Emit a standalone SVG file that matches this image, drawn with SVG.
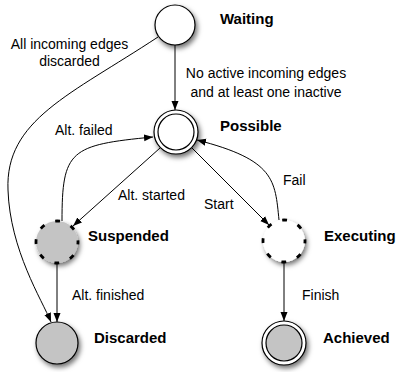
<svg xmlns="http://www.w3.org/2000/svg" width="400" height="372" viewBox="0 0 400 372">
  <style>
    .lbl { font-family: "Liberation Sans", Arial, sans-serif; font-size: 14px; fill: #000; }
    .name { font-family: "Liberation Sans", Arial, sans-serif; font-size: 15px; font-weight: bold; fill: #000; }
    .edge { fill: none; stroke: #000; stroke-width: 1; }
    .ring { stroke: #000; stroke-width: 1.2; }
    .white { fill: #fff; }
    .grey { fill: #c4c4c4; }
    .dashed { stroke: #000; stroke-width: 2.8; stroke-dasharray: 5 11.49; stroke-dashoffset: 2.5; }
  </style>
  <defs>
    <filter id="shadow" x="-40%" y="-40%" width="190%" height="190%">
      <feDropShadow dx="2" dy="3" stdDeviation="2.5" flood-color="#000" flood-opacity="0.55"/>
    </filter>
    <marker id="arrow" markerWidth="10" markerHeight="8" refX="9" refY="4" orient="auto" markerUnits="userSpaceOnUse">
      <path d="M0,0.5 L9,4 L0,7.5 Z" fill="#000"/>
    </marker>
  </defs>

  <!-- transitions -->
  <g id="connectors">
    <line class="edge" x1="175" y1="45" x2="175" y2="110" marker-end="url(#arrow)"/>
    <path class="edge" d="M158,37 C70,95 5,120 8,190 C10,250 42,300 51,322" marker-end="url(#arrow)"/>
    <path class="edge" d="M62,221 C62,150 70,145 153,137" marker-end="url(#arrow)"/>
    <line class="edge" x1="160" y1="148" x2="73" y2="226" marker-end="url(#arrow)"/>
    <line class="edge" x1="192" y1="148" x2="269" y2="225" marker-end="url(#arrow)"/>
    <path class="edge" d="M279,220 C275,180 275,160 197,140" marker-end="url(#arrow)"/>
    <line class="edge" x1="57" y1="263" x2="57" y2="322" marker-end="url(#arrow)"/>
    <line class="edge" x1="284" y1="262" x2="284" y2="321" marker-end="url(#arrow)"/>
    <text class="lbl" x="69.5" y="49" text-anchor="middle">All incoming edges</text>
    <text class="lbl" x="69.5" y="66" text-anchor="middle">discarded</text>
    <text class="lbl" x="266" y="78" text-anchor="middle">No active incoming edges</text>
    <text class="lbl" x="266" y="97" text-anchor="middle">and at least one inactive</text>
    <text class="lbl" x="55" y="135">Alt. failed</text>
    <text class="lbl" x="118" y="200">Alt. started</text>
    <text class="lbl" x="204" y="209">Start</text>
    <text class="lbl" x="283" y="185">Fail</text>
    <text class="lbl" x="72" y="300">Alt. finished</text>
    <text class="lbl" x="302" y="300">Finish</text>
  </g>

  <g id="waiting">
    <circle class="white ring" cx="175" cy="25" r="20" filter="url(#shadow)"/>
    <text class="name" x="220" y="24">Waiting</text>
  </g>

  <g id="possible">
    <circle class="white ring" cx="176" cy="132" r="22" filter="url(#shadow)"/>
    <circle class="white ring" cx="176" cy="132" r="18"/>
    <text class="name" x="220" y="131">Possible</text>
  </g>

  <g id="suspended">
    <circle class="grey" cx="57" cy="242" r="21" filter="url(#shadow)"/>
    <circle class="dashed" fill="none" cx="57" cy="242" r="21"/>
    <text class="name" x="88" y="241">Suspended</text>
  </g>

  <g id="executing">
    <circle class="white" cx="284" cy="241" r="21" filter="url(#shadow)"/>
    <circle class="dashed" fill="none" cx="284" cy="241" r="21"/>
    <text class="name" x="324" y="241">Executing</text>
  </g>

  <g id="discarded">
    <circle class="grey ring" cx="57" cy="343" r="21" filter="url(#shadow)"/>
    <text class="name" x="94" y="343">Discarded</text>
  </g>

  <g id="achieved">
    <circle class="white ring" cx="284" cy="343" r="22" filter="url(#shadow)"/>
    <circle class="grey ring" cx="284" cy="343" r="18"/>
    <text class="name" x="323" y="343">Achieved</text>
  </g>
</svg>
